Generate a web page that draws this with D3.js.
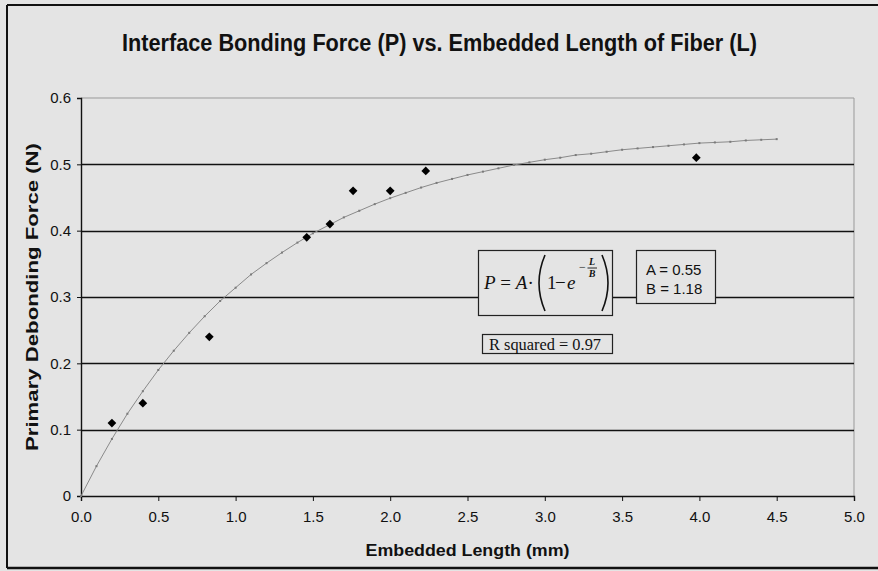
<!DOCTYPE html>
<html>
<head>
<meta charset="utf-8">
<script src="https://cdn.jsdelivr.net/npm/d3@7"></script>
<style>
  html, body { margin: 0; padding: 0; background: #e4e4e4; }
  svg { display: block; }
</style>
</head>
<body>
<div id="chart"></div>
<script>
// measured points
const lengths = [0.2, 0.4, 0.83, 1.46, 1.61, 1.76, 2.0, 2.23, 3.98];
const forces  = [0.11, 0.14, 0.24, 0.39, 0.41, 0.46, 0.46, 0.49, 0.51];

// fitted trend, one value every 0.1 mm from 0 to 4.5
const fitForces = [0, 0.045, 0.086, 0.124, 0.158, 0.190, 0.219, 0.246, 0.271, 0.294,
  0.314, 0.334, 0.351, 0.367, 0.382, 0.396, 0.408, 0.420, 0.430, 0.440,
  0.449, 0.457, 0.465, 0.472, 0.478, 0.484, 0.489, 0.494, 0.499, 0.503,
  0.507, 0.510, 0.514, 0.516, 0.519, 0.522, 0.524, 0.526, 0.528, 0.530,
  0.532, 0.533, 0.534, 0.536, 0.537, 0.538];
const fitLengths = fitForces.map((d, i) => i / 10);

const xTicks = [0, 0.5, 1, 1.5, 2, 2.5, 3, 3.5, 4, 4.5, 5];
const yTicks = [0, 0.1, 0.2, 0.3, 0.4, 0.5, 0.6];

const W = 878, H = 571;
const sans = '"Liberation Sans", Arial, sans-serif';
const serif = '"Liberation Serif", "Times New Roman", serif';

const svg = d3.select('#chart').append('svg')
    .attr('width', W).attr('height', H)
    .attr('xmlns', 'http://www.w3.org/2000/svg');

const x = d3.scaleLinear().domain([0, 5]).range([81, 854]);
const y = d3.scaleLinear().domain([0, 0.6]).range([496, 98]);

// outer frame
svg.append('line').attr('x1', 7).attr('x2', W).attr('y1', 5).attr('y2', 5)
    .attr('stroke', '#111').attr('stroke-width', 2);
svg.append('line').attr('x1', 7).attr('x2', 7).attr('y1', 5).attr('y2', 568)
    .attr('stroke', '#111').attr('stroke-width', 2);
svg.append('line').attr('x1', 7).attr('x2', W).attr('y1', 568).attr('y2', 568)
    .attr('stroke', '#111').attr('stroke-width', 2.5);

// plot area border (light)
svg.append('path')
    .attr('d', `M${x(0)},${y(0.6)}H${x(5)}V${y(0)}`)
    .attr('fill', 'none').attr('stroke', '#999').attr('stroke-width', 1);

// gridlines
svg.append('g').selectAll('line')
    .data(yTicks.filter(d => d > 0 && d < 0.6))
    .join('line')
    .attr('x1', x(0)).attr('x2', x(5))
    .attr('y1', d => Math.round(y(d)) + 0.5).attr('y2', d => Math.round(y(d)) + 0.5)
    .attr('stroke', '#111').attr('stroke-width', 1.4);

// axes
const yAxis = svg.append('g')
    .attr('transform', `translate(${x(0)},0)`)
    .call(d3.axisLeft(y).tickValues(yTicks).tickSize(4).tickPadding(6)
        .tickFormat(d => d === 0 ? '0' : d3.format('.1f')(d)));
const xAxis = svg.append('g')
    .attr('transform', `translate(0,${y(0)})`)
    .call(d3.axisBottom(x).tickValues(xTicks).tickSize(5).tickPadding(10)
        .tickFormat(d3.format('.1f')));
[yAxis, xAxis].forEach(g => {
    g.attr('font-size', 15).attr('font-family', sans);
    g.select('.domain').attr('stroke', '#111').attr('stroke-width', 1.4);
    g.selectAll('.tick line').attr('stroke', '#111');
    g.selectAll('.tick text').attr('fill', '#111');
});

// trend line with its small markers
const fitPts = fitLengths.map((l, i) => [l, fitForces[i]]);
svg.append('path')
    .datum(fitPts)
    .attr('fill', 'none').attr('stroke', '#8a8a8a').attr('stroke-width', 1)
    .attr('d', d3.line().x(d => x(d[0])).y(d => y(d[1])));
svg.append('g').selectAll('rect')
    .data(fitPts)
    .join('rect')
    .attr('x', d => x(d[0]) - 1).attr('y', d => y(d[1]) - 1)
    .attr('width', 2).attr('height', 2).attr('fill', '#7a7a7a');

// measured points
svg.append('g').selectAll('path')
    .data(lengths.map((l, i) => [l, forces[i]]))
    .join('path')
    .attr('transform', d => `translate(${x(d[0])},${y(d[1])}) rotate(45)`)
    .attr('d', d3.symbol(d3.symbolSquare, 38))
    .attr('fill', '#000');

// titles
svg.append('text')
    .attr('x', 439.5).attr('y', 51)
    .attr('text-anchor', 'middle')
    .attr('textLength', 635).attr('lengthAdjust', 'spacingAndGlyphs')
    .style('font-family', sans)
    .style('font-weight', 'bold').style('font-size', '23px').attr('fill', '#111')
    .text('Interface Bonding Force (P) vs. Embedded Length of Fiber (L)');

svg.append('text')
    .attr('transform', `translate(38,${(y(0) + y(0.6)) / 2}) rotate(-90)`)
    .attr('text-anchor', 'middle')
    .attr('textLength', 308).attr('lengthAdjust', 'spacingAndGlyphs')
    .style('font-family', sans)
    .style('font-weight', 'bold').style('font-size', '17px').attr('fill', '#111')
    .text('Primary Debonding Force (N)');

svg.append('text')
    .attr('x', (x(0) + x(5)) / 2).attr('y', 556)
    .attr('text-anchor', 'middle')
    .attr('textLength', 204).attr('lengthAdjust', 'spacingAndGlyphs')
    .style('font-family', sans)
    .style('font-weight', 'bold').style('font-size', '16px').attr('fill', '#111')
    .text('Embedded Length (mm)');

// equation box
const eq = svg.append('g').attr('fill', '#111').style('font-family', serif);
eq.append('rect').attr('x', 478.5).attr('y', 250.5).attr('width', 134).attr('height', 65)
    .attr('fill', '#e4e4e4').attr('stroke', '#222').attr('stroke-width', 1.2);
eq.append('text').attr('x', 484).attr('y', 289).style('font-size', '19px')
    .html('<tspan font-style="italic">P</tspan> = <tspan font-style="italic">A</tspan>·');
eq.append('path').attr('d', 'M545,255 Q533,283 545,311')
    .attr('fill', 'none').attr('stroke', '#111').attr('stroke-width', 1.6);
eq.append('path').attr('d', 'M602,255 Q614,283 602,311')
    .attr('fill', 'none').attr('stroke', '#111').attr('stroke-width', 1.6);
eq.append('text').attr('x', 547).attr('y', 289).style('font-size', '19px').text('1');
eq.append('text').attr('x', 555).attr('y', 289).style('font-size', '19px').text('−');
eq.append('text').attr('x', 567).attr('y', 289).style('font-size', '19px')
    .style('font-style', 'italic').text('e');
eq.append('text').attr('x', 579).attr('y', 271).style('font-size', '12px').text('−');
eq.append('text').attr('x', 592).attr('y', 265).attr('text-anchor', 'middle')
    .style('font-size', '10px').style('font-style', 'italic')
    .style('font-weight', 'bold').text('L');
eq.append('line').attr('x1', 587.5).attr('x2', 597).attr('y1', 268).attr('y2', 268)
    .attr('stroke', '#111').attr('stroke-width', 0.9);
eq.append('text').attr('x', 592).attr('y', 277).attr('text-anchor', 'middle')
    .style('font-size', '10px').style('font-style', 'italic')
    .style('font-weight', 'bold').text('B');

// parameter box
const pb = svg.append('g');
pb.append('rect').attr('x', 636.5).attr('y', 250.5).attr('width', 79).attr('height', 53)
    .attr('fill', '#e4e4e4').attr('stroke', '#222').attr('stroke-width', 1.2);
['A = 0.55', 'B = 1.18'].forEach((t, i) => {
    pb.append('text').attr('x', 646).attr('y', 275 + i * 19)
        .style('font-family', sans)
        .style('font-size', '15px').attr('fill', '#111').text(t);
});

// r squared box
const rb = svg.append('g');
rb.append('rect').attr('x', 482.5).attr('y', 334.5).attr('width', 130).attr('height', 19)
    .attr('fill', '#e4e4e4').attr('stroke', '#222').attr('stroke-width', 1.2);
rb.append('text').attr('x', 489).attr('y', 349.5)
    .attr('textLength', 112).attr('lengthAdjust', 'spacingAndGlyphs')
    .style('font-family', serif).style('font-size', '16px').attr('fill', '#111')
    .text('R squared = 0.97');
</script>
</body>
</html>
